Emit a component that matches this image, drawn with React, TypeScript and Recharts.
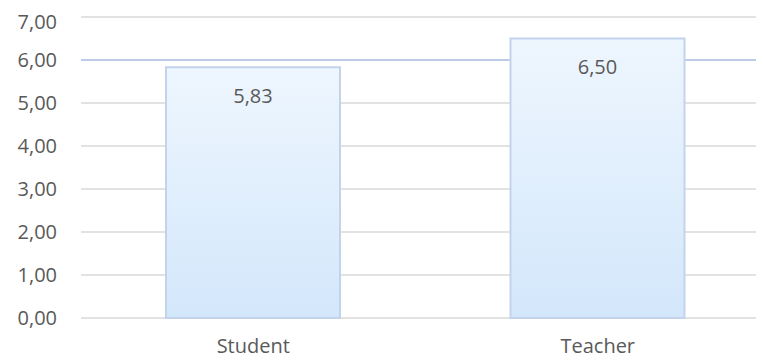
import { BarChart, Bar, XAxis, YAxis, CartesianGrid, LabelList } from 'recharts';

const categories = ['Student', 'Teacher'];
const scores = [5.83, 6.5];
const yTicks = [0, 1, 2, 3, 4, 5, 6, 7];
const markerValue = 6;

const data = categories.map((name, i) => ({ name, score: scores[i] }));

const comma = (v: number) => v.toFixed(2).replace('.', ',');
const font = '"Open Sans", "Noto Sans", sans-serif';

// grid line at the marker value is drawn in blue, the rest in grey
function GridLine(props: any) {
  const { x1, x2, y1, y2, index } = props;
  const isMarker = yTicks[index] === markerValue;
  return (
    <line
      x1={x1}
      x2={x2}
      y1={y1}
      y2={y2}
      stroke={isMarker ? '#bccbe8' : '#d9d9d9'}
      strokeWidth={isMarker ? 2 : 1.3}
    />
  );
}

export default function App() {
  return (
    <div style={{ width: 756, height: 352, overflow: 'hidden', fontFamily: font }}>
      <BarChart
        width={762}
        height={352}
        data={data}
        margin={{ top: 9, right: 0, left: 0, bottom: 0 }}
        barSize={174}
      >
        <defs>
          <linearGradient id="barFill" x1="0" y1="0" x2="0" y2="1">
            <stop offset="0%" stopColor="#eef6fe" />
            <stop offset="100%" stopColor="#d3e7fb" />
          </linearGradient>
        </defs>
        <CartesianGrid vertical={false} horizontal={(p: any) => <GridLine {...p} />} />
        <XAxis
          dataKey="name"
          axisLine={false}
          tickLine={false}
          tickSize={0}
          tickMargin={21}
          height={42}
          tick={{ fontSize: 20, fill: '#595959', fontFamily: font }}
        />
        <YAxis
          domain={[0, 7]}
          ticks={yTicks}
          axisLine={false}
          tickLine={false}
          tickSize={0}
          tickMargin={24}
          width={73}
          tickFormatter={comma}
          tick={{ fontSize: 20, fill: '#595959', fontFamily: font }}
        />
        <Bar dataKey="score" fill="url(#barFill)" stroke="#c3d3ec" strokeWidth={2} isAnimationActive={false}>
          <LabelList
            dataKey="score"
            position="insideTop"
            offset={21}
            formatter={(v: any) => comma(Number(v))}
            style={{ fontSize: 20, fill: '#595959', fontFamily: font }}
          />
        </Bar>
      </BarChart>
    </div>
  );
}
